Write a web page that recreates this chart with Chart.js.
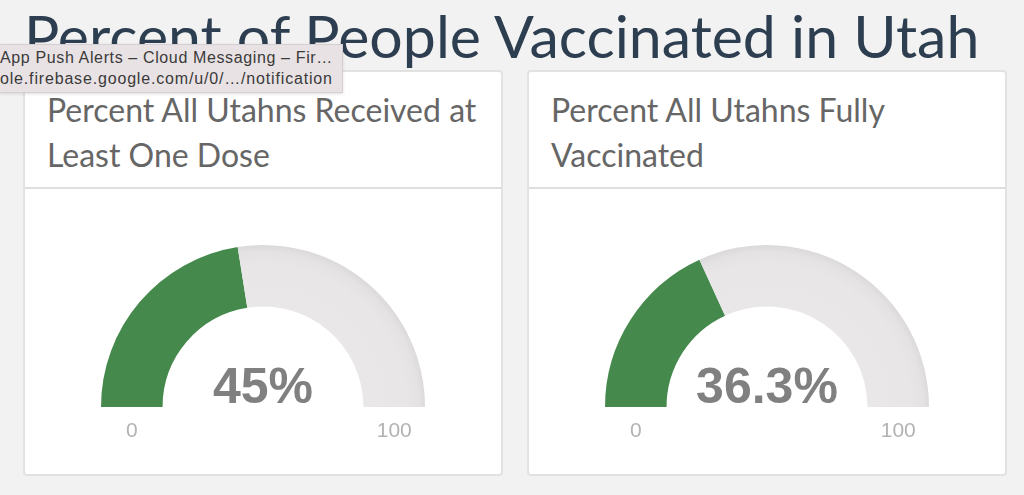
<!DOCTYPE html>
<html>
<head>
<meta charset="utf-8">
<script src="https://cdn.jsdelivr.net/npm/chart.js@4/dist/chart.umd.min.js"></script>
<style>
  html, body { margin: 0; padding: 0; }
  body { width: 1024px; height: 495px; overflow: hidden; background: #f2f2f2; position: relative; font-family: Lato, sans-serif; }
  h1 { position: absolute; left: 24px; top: 0px; margin: 0; font: 400 59px Lato, sans-serif; color: #2c3e50; white-space: nowrap; }
  .card { position: absolute; top: 70px; width: 480px; height: 406px; background: #fff; border: 2px solid #e2e2e2; border-radius: 4px; box-sizing: border-box; }
  .card .hd { height: 117px; border-bottom: 2px solid #dedede; padding: 15px 0 0 22px; box-sizing: border-box; font: 400 32px/45px Lato, sans-serif; color: #666; white-space: nowrap; }
  .card .bd { position: relative; height: 285px; }
  .tip { position: absolute; left: 0; top: 44px; width: 343px; height: 49px; background: #e9e2e4; border: 1px solid #d6cfd1; border-left: none; box-sizing: border-box; box-shadow: 0 1px 3px rgba(0,0,0,0.12); font: 400 16px/21px "Liberation Sans", Arial, sans-serif; color: #3a3a3a; white-space: nowrap; overflow: hidden; padding: 2px 0 0 0; z-index: 5; }
  .tip span { display: inline-block; }
</style>
</head>
<body>
<h1>Percent of People Vaccinated in Utah</h1>
<div class="card" style="left:23px"><div class="hd" id="t0"></div><div class="bd"><canvas id="g0"></canvas></div></div>
<div class="card" style="left:527px"><div class="hd" id="t1"></div><div class="bd"><canvas id="g1"></canvas></div></div>
<div class="tip"><span>App Push Alerts – Cloud Messaging – Fir…</span><br><span>ole.firebase.google.com/u/0/…/notification</span></div>
<script>
const gaugeTitles = ['Percent All Utahns Received at<br>Least One Dose', 'Percent All Utahns Fully<br>Vaccinated'];
const gaugeValues = [45, 36.3];
const gaugeLabels = ['45%', '36.3%'];
const gaugeMin = 0;
const gaugeMax = 100;

const GREEN = '#45894c';

// stretch the tooltip lines so both end near x=333 like the screenshot
document.querySelectorAll('.tip span').forEach(s => {
  const n = s.textContent.length;
  const w = s.getBoundingClientRect().width;
  s.style.letterSpacing = ((333 - w) / n).toFixed(2) + 'px';
});

// text inside / under the gauge
const gaugeText = {
  id: 'gaugeText',
  afterDraw(chart, args, opts) {
    const { ctx } = chart;
    const arc = chart.getDatasetMeta(0).data[0];
    const cx = arc.x, cy = arc.y, R = arc.outerRadius, r = arc.innerRadius;
    ctx.save();
    ctx.textAlign = 'center';
    ctx.fillStyle = '#808080';
    ctx.font = 'bold 50px "Liberation Sans", Arial, sans-serif';
    ctx.textBaseline = 'alphabetic';
    ctx.fillText(opts.label, cx, cy - 4);
    ctx.fillStyle = '#b3b3b3';
    ctx.font = '21px "Liberation Sans", Arial, sans-serif';
    ctx.textBaseline = 'middle';
    ctx.fillText(String(gaugeMin), cx - (R + r) / 2, cy + 24);
    ctx.fillText(String(gaugeMax), cx + (R + r) / 2, cy + 24);
    ctx.restore();
  }
};

// green for the value, shaded grey for the rest of the track
function sliceColor(c) {
  if (c.dataIndex === 0) return GREEN;
  const area = c.chart.chartArea;
  if (!area) return '#e8e6e7';
  const cx = (area.left + area.right) / 2;
  const cy = area.bottom;
  const R = Math.min(area.width / 2, area.height);
  const g = c.chart.ctx.createRadialGradient(cx, cy, R * 0.62, cx, cy, R);
  g.addColorStop(0, '#e9e7e8');
  g.addColorStop(0.7, '#e8e6e7');
  g.addColorStop(0.9, '#e4e2e3');
  g.addColorStop(1, '#dcdadb');
  return g;
}

function renderGauge(i) {
  document.getElementById('t' + i).innerHTML = gaugeTitles[i];
  const v = gaugeValues[i];
  new Chart(document.getElementById('g' + i), {
    type: 'doughnut',
    data: {
      labels: ['value', 'rest'],
      datasets: [{
        data: [v - gaugeMin, gaugeMax - v],
        backgroundColor: sliceColor,
        borderWidth: 0
      }]
    },
    options: {
      responsive: true, maintainAspectRatio: false, animation: false, events: [],
      rotation: -90, circumference: 180, cutout: '62%',
      layout: { padding: { left: 76, right: 76, top: 55, bottom: 66 } },
      plugins: { legend: { display: false }, tooltip: { enabled: false }, gaugeText: { label: gaugeLabels[i] } }
    },
    plugins: [gaugeText]
  });
}

gaugeValues.forEach((_, i) => renderGauge(i));
</script>
</body>
</html>
